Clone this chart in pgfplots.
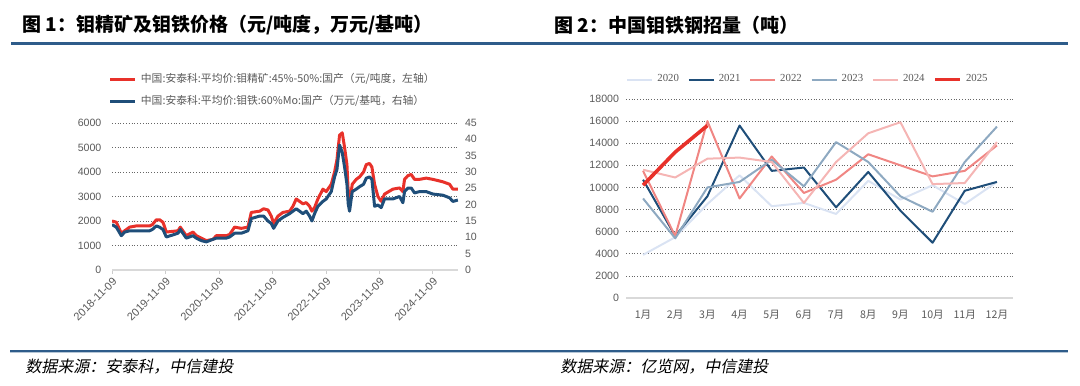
\documentclass[border=0pt]{standalone}
\usepackage{fontspec}
\usepackage{pgfplots}
\pgfplotsset{compat=1.18}
\setmainfont{Liberation Sans}
\newfontfamily\cjk{Noto Sans CJK SC}
\newfontfamily\cjkit[FakeSlant=0.2]{Noto Sans CJK SC}
\definecolor{mred}{HTML}{E8312A}
\definecolor{mblue}{HTML}{1F4E79}
\definecolor{c20}{HTML}{DAE3F3}
\definecolor{c21}{HTML}{1F4E79}
\definecolor{c22}{HTML}{F08683}
\definecolor{c23}{HTML}{8EA9C1}
\definecolor{c24}{HTML}{F5B5B4}
\definecolor{c25}{HTML}{E8312A}
\definecolor{tickgray}{HTML}{595959}
\definecolor{rule}{HTML}{2E5C8A}
\pgfplotsset{
  common/.style={
    scale only axis,
    /pgf/number format/assume math mode=true,
    tick label style={font=\fontsize{5.3}{6}\selectfont, text=tickgray},
    ymajorgrids,
    grid style={densely dotted, line width=0.35pt, color=black!60},
    axis x line*=bottom, axis y line*=left,
    y axis line style={draw=none},
    x axis line style={draw=black!15, line width=0.6pt},
    ytick style={draw=none},
    scaled y ticks=false,
    /pgf/number format/1000 sep={},
    legend cell align=left,
  }
}
\begin{document}
\begin{tikzpicture}
\useasboundingbox (0,0) rectangle (540pt,192.5pt);
% titles
\node[anchor=west, inner sep=0] at (11pt,180pt) {\cjk\bfseries\fontsize{9.5}{11}\selectfont 图 1：钼精矿及钼铁价格（元/吨度，万元/基吨）};
\node[anchor=west, inner sep=0] at (277pt,180pt) {\cjk\bfseries\fontsize{9.5}{11}\selectfont 图 2：中国钼铁钢招量（吨）};
\draw[rule, line width=1.4pt] (5.5pt,170.8pt) -- (534pt,170.8pt);
\draw[rule, line width=0.6pt] (5pt,17.0pt) -- (534pt,17.0pt);
\draw[rule!35, line width=0.5pt] (5pt,16.2pt) -- (534pt,16.2pt);
\node[anchor=west, inner sep=0] at (12.5pt,9pt) {\cjkit\fontsize{8}{9}\selectfont 数据来源：安泰科，中信建投};
\node[anchor=west, inner sep=0] at (280pt,9pt) {\cjkit\fontsize{8}{9}\selectfont 数据来源：亿览网，中信建投};

% ---------- left chart ----------
\begin{axis}[common,
  at={(56pt,57.5pt)}, anchor=south west,
  width=173pt, height=73.5pt,
  xmin=0, xmax=6.47, ymin=0, ymax=6000,
  ytick={0,1000,...,6000},
  xtick={0,1,2,3,4,5,6},
  xticklabels={2018-11-09,2019-11-09,2020-11-09,2021-11-09,2022-11-09,2023-11-09,2024-11-09},
  xticklabel style={rotate=45, anchor=north east, inner sep=1pt, font=\fontsize{5.5}{6}\selectfont},
  xtick style={draw=black!20, line width=0.4pt},
  tick align=outside, major tick length=1.8pt,
  legend style={at={(-0.01,1.365)}, anchor=north west, draw=none, fill=none,
    font=\cjk\fontsize{5.4}{6}\selectfont, text=tickgray, row sep=0.6pt, inner sep=0pt},
  legend image code/.code={\draw[#1] (0pt,0pt) -- (12.5pt,0pt);},
]
\addplot[mred, line width=1.5pt, line join=round] coordinates {
(0.000,2000)(0.081,1950)(0.174,1500)(0.237,1600)(0.330,1750)(0.455,1800)(0.704,1800)(0.754,1850)(0.829,2050)(0.891,2050)(0.953,1950)(1.016,1550)(1.234,1600)(1.277,1750)(1.389,1400)(1.514,1550)(1.576,1400)(1.670,1300)(1.763,1200)(1.888,1250)(1.950,1400)(2.137,1400)(2.199,1450)(2.293,1750)(2.417,1700)(2.542,1750)(2.604,2350)(2.760,2400)(2.835,2500)(2.916,2450)(2.978,2200)(3.022,1900)(3.103,2200)(3.196,2350)(3.321,2400)(3.383,2600)(3.445,2900)(3.508,2800)(3.570,2700)(3.632,2750)(3.695,2600)(3.738,2400)(3.788,2550)(3.850,2900)(3.944,3300)(4.006,3200)(4.100,3500)(4.162,4000)(4.206,4500)(4.255,5500)(4.305,5600)(4.349,5000)(4.393,4300)(4.417,3200)(4.442,2700)(4.492,3500)(4.567,3700)(4.629,3800)(4.704,4000)(4.754,4300)(4.816,4350)(4.860,4200)(4.910,3500)(4.972,3000)(5.034,2800)(5.097,3100)(5.252,3300)(5.377,3350)(5.439,3200)(5.470,3700)(5.533,3850)(5.595,3900)(5.657,3700)(5.751,3700)(5.875,3750)(6.000,3700)(6.187,3600)(6.312,3500)(6.374,3300)(6.467,3300)
};
\addlegendentry{中国:安泰科:平均价:钼精矿:45\%-50\%:国产（元/吨度，左轴）}
\addlegendimage{mblue, line width=1.5pt}
\addlegendentry{中国:安泰科:平均价:钼铁:60\%Mo:国产（万元/基吨，右轴）}
\end{axis}
\begin{axis}[scale only axis,
  at={(56pt,57.5pt)}, anchor=south west,
  width=173pt, height=73.5pt,
  xmin=0, xmax=6.47, ymin=0, ymax=45,
  ytick={0,5,...,45},
  axis x line=none, axis y line*=right,
  y axis line style={draw=none}, ytick style={draw=none},
  /pgf/number format/assume math mode=true,
  tick label style={font=\fontsize{5.3}{6}\selectfont, text=tickgray},
]
\addplot[mblue, line width=1.5pt, line join=round] coordinates {
(0.000,13.9)(0.081,13.1)(0.174,10.5)(0.237,11.6)(0.330,12.0)(0.704,12.0)(0.754,12.4)(0.829,13.5)(0.891,13.1)(0.953,12.4)(1.016,10.1)(1.234,11.25)(1.277,12.4)(1.389,9.75)(1.514,10.5)(1.576,9.75)(1.670,9.0)(1.763,8.6)(1.888,9.4)(1.950,9.75)(2.137,9.75)(2.199,10.1)(2.293,11.25)(2.417,11.25)(2.542,12.0)(2.604,15.75)(2.760,16.5)(2.835,16.5)(2.916,15.0)(2.978,14.25)(3.022,12.75)(3.103,15.0)(3.196,16.1)(3.321,17.25)(3.383,18.0)(3.445,18.75)(3.508,18.0)(3.570,17.25)(3.632,18.0)(3.695,16.5)(3.738,15.0)(3.788,17.25)(3.850,19.5)(3.944,21.0)(4.006,21.75)(4.100,24.0)(4.162,28.5)(4.206,30.75)(4.255,38.25)(4.305,36.0)(4.349,31.5)(4.393,26.25)(4.417,20.25)(4.442,18.0)(4.492,24.0)(4.567,24.75)(4.629,25.5)(4.704,26.25)(4.754,28.1)(4.816,28.5)(4.860,27.75)(4.910,19.5)(4.972,19.9)(5.034,19.1)(5.097,21.75)(5.252,21.75)(5.377,22.5)(5.439,20.6)(5.470,24.0)(5.533,25.1)(5.595,25.1)(5.657,23.6)(5.751,24.0)(5.875,24.0)(6.000,23.25)(6.187,22.9)(6.312,22.1)(6.374,21.0)(6.467,21.4)
};
\end{axis}

% ---------- right chart ----------
\begin{axis}[common,
  at={(313pt,43.5pt)}, anchor=south west,
  width=193.5pt, height=99.5pt,
  xmin=0.47, xmax=12.5, ymin=0, ymax=18000,
  ytick={0,2000,...,18000},
  xtick={1,...,12},
  xticklabels={1月,2月,3月,4月,5月,6月,7月,8月,9月,10月,11月,12月},
  xticklabel style={font=\cjk\fontsize{5.3}{6}\selectfont, yshift=-2.5pt},
  xtick style={draw=none},
  legend columns=6,
  legend style={at={(0,1.145)}, anchor=north west, draw=none, fill=none,
    font=\fontspec{Liberation Serif}\fontsize{5.4}{6}\selectfont, text=tickgray, inner sep=0pt,
    /tikz/every even column/.append style={column sep=2.4pt}},
  legend image code/.code={\draw[#1] (0pt,0pt) -- (12.5pt,0pt);},
  line join=round,
]
\addplot[c20, line width=1pt] coordinates {(1,3900)(2,5500)(3,8500)(4,11100)(5,8300)(6,8600)(7,7600)(8,10600)(9,8900)(10,10200)(11,8500)(12,10500)};
\addlegendentry{2020}
\addplot[c21, line width=1pt] coordinates {(1,10700)(2,5600)(3,9200)(4,15600)(5,11500)(6,11800)(7,8200)(8,11400)(9,7900)(10,5000)(11,9700)(12,10500)};
\addlegendentry{2021}
\addplot[c22, line width=1pt] coordinates {(1,11500)(2,5600)(3,16000)(4,9000)(5,12800)(6,9500)(7,10700)(8,13000)(9,12000)(10,11000)(11,11500)(12,13800)};
\addlegendentry{2022}
\addplot[c23, line width=1pt] coordinates {(1,9000)(2,5400)(3,10000)(4,10500)(5,12500)(6,10100)(7,14100)(8,12300)(9,9200)(10,7800)(11,12300)(12,15500)};
\addlegendentry{2023}
\addplot[c24, line width=1pt] coordinates {(1,11600)(2,10900)(3,12600)(4,12700)(5,12300)(6,8600)(7,12300)(8,14900)(9,15900)(10,10300)(11,10400)(12,14100)};
\addlegendentry{2024}
\addplot[c25, line width=1.8pt] coordinates {(1,10200)(2,13200)(3,15600)};
\addlegendentry{2025}
\end{axis}
\end{tikzpicture}
\end{document}
